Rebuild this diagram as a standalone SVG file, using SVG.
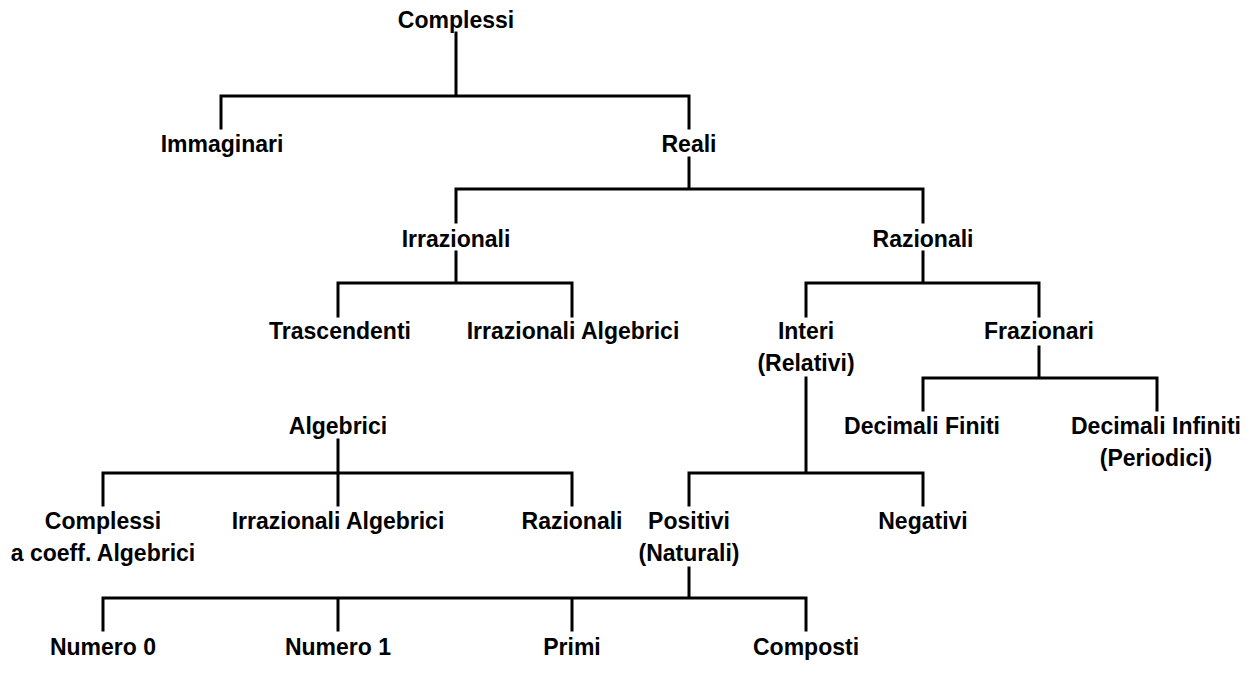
<svg xmlns="http://www.w3.org/2000/svg" width="1258" height="690" viewBox="0 0 1258 690">
<style>
text{font-family:"Liberation Sans",Arial,sans-serif;font-weight:bold;font-size:23px;fill:#000;text-anchor:middle}
.c{fill:none;stroke:#000;stroke-width:3;stroke-linecap:square;stroke-linejoin:miter}
</style>
<rect width="1258" height="690" fill="#fff"/>
<g id="connectors" class="c">
<path d="M456 33V96M221 128V96H689V128"/>
<path d="M689 158V189M456 222V189H923V222"/>
<path d="M456 252V283M338 316V283H572V316"/>
<path d="M923 252V283M806 316V283H1039V316"/>
<path d="M1039 347V378M923 410V378H1157V410"/>
<path d="M806 378V473M689 505V473H923V505"/>
<path d="M338 440V505M103 505V473H572V505"/>
<path d="M689 568V598M103 630V598H806V630M338 598V630M572 598V630"/>
</g>
<g id="n-complessi"><text x="456" y="28">Complessi</text></g>
<g id="n-immaginari"><text x="222" y="152">Immaginari</text></g>
<g id="n-reali"><text x="689" y="152">Reali</text></g>
<g id="n-irrazionali"><text x="456" y="247">Irrazionali</text></g>
<g id="n-razionali"><text x="923" y="247">Razionali</text></g>
<g id="n-trascendenti"><text x="340" y="339">Trascendenti</text></g>
<g id="n-irr-alg"><text x="573" y="339">Irrazionali Algebrici</text></g>
<g id="n-interi"><text x="806" y="339">Interi</text><text x="806" y="371">(Relativi)</text></g>
<g id="n-frazionari"><text x="1039" y="339">Frazionari</text></g>
<g id="n-dec-finiti"><text x="922" y="434">Decimali Finiti</text></g>
<g id="n-dec-infiniti"><text x="1156" y="434">Decimali Infiniti</text><text x="1156" y="466">(Periodici)</text></g>
<g id="n-algebrici"><text x="338" y="434">Algebrici</text></g>
<g id="n-complessi-alg"><text x="103" y="529">Complessi</text><text x="103" y="561">a coeff. Algebrici</text></g>
<g id="n-irr-alg2"><text x="338" y="529">Irrazionali Algebrici</text></g>
<g id="n-razionali2"><text x="572" y="529">Razionali</text></g>
<g id="n-positivi"><text x="689" y="529">Positivi</text><text x="689" y="561">(Naturali)</text></g>
<g id="n-negativi"><text x="923" y="529">Negativi</text></g>
<g id="n-numero0"><text x="103" y="655">Numero 0</text></g>
<g id="n-numero1"><text x="338" y="655">Numero 1</text></g>
<g id="n-primi"><text x="572" y="655">Primi</text></g>
<g id="n-composti"><text x="806" y="655">Composti</text></g>
</svg>
